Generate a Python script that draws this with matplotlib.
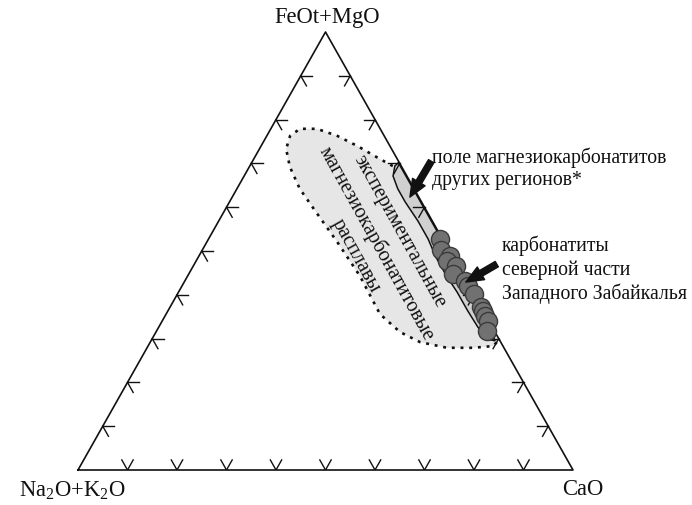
import numpy as np
import matplotlib.pyplot as plt

plt.rcParams['font.family'] = ['Liberation Serif', 'DejaVu Serif']
plt.rcParams['mathtext.fontset'] = 'custom'
plt.rcParams['mathtext.rm'] = 'Liberation Serif'
plt.rcParams['mathtext.it'] = 'Liberation Serif:italic'

# carbonatites of the northern part of Western Transbaikalia (wt.%)
pts_feo_mgo = [52.7, 50.2, 48.9, 47.7, 46.6, 44.7, 43.2, 42.0, 40.2, 37.2, 36.3, 35.2, 34.0, 31.7]
pts_cao = [46.8, 48.2, 50.7, 50.7, 53.1, 53.4, 56.6, 57.8, 59.8, 62.8, 63.7, 64.6, 65.8, 66.8]

# experimental magnesiocarbonatite melts field (dotted outline)
exp_feo_mgo = [69.4, 71.0, 74.0, 76.3, 77.9, 77.9, 76.3, 73.3, 69.2, 64.2, 59.1, 52.1,
               44.3, 35.6, 31.5, 29.2, 27.9, 27.9, 28.3, 29.9]
exp_cao = [28.9, 25.5, 19.4, 14.2, 9.3, 5.9, 4.7, 5.4, 8.2, 12.7, 18.4, 26.3,
           34.8, 43.2, 49.3, 54.5, 60.6, 65.9, 69.7, 70.3]
# hidden side of that field, under the other-regions band
exp_edge_feo_mgo = [40.0, 50.0, 60.0]
exp_edge_cao = [59.0, 49.0, 39.0]

# magnesiocarbonatites of other regions field
band_feo_mgo = [70.3, 69.4, 67.1, 64.2, 61.2, 56.8, 52.7, 48.6, 44.5, 40.6, 36.3, 32.6, 29.9, 29.5,
                35.0, 45.0, 55.0, 65.0, 70.0]
band_cao = [29.7, 29.3, 30.1, 32.5, 35.5, 40.3, 44.4, 48.0, 52.1, 56.3, 60.6, 64.5, 67.7, 69.5,
            64.8, 54.8, 44.8, 34.8, 29.8]

tick_vals = [10, 20, 30, 40, 50, 60, 70, 80, 90]


def tern(fe, ca):
    fe = np.asarray(fe, dtype=float) / 100
    ca = np.asarray(ca, dtype=float) / 100
    return ca + fe / 2, fe


W, H = 692, 506
fig = plt.figure(figsize=(W / 100, H / 100), dpi=100)
ax = fig.add_axes([78 / W, (H - 471) / H, 495 / W, 438 / H])
ax.set_xlim(0, 1)
ax.set_ylim(0, 1)
ax.axis('off')

# fields
ex, ey = tern(exp_feo_mgo + exp_edge_feo_mgo, exp_cao + exp_edge_cao)
ax.fill(ex, ey, color='#e6e6e6', lw=0, zorder=1, clip_on=False)
dx, dy = tern(exp_feo_mgo, exp_cao)
ax.plot(dx, dy, color='#111111', lw=1.9, ls=(0, (1.1, 2.2)), zorder=2, clip_on=False)

bx, by = tern(band_feo_mgo, band_cao)
ax.fill(bx, by, facecolor='#d0d0d0', edgecolor='#111111', lw=1.1, zorder=3, clip_on=False)

# triangle
tx, ty = tern([0, 0, 100, 0], [0, 100, 0, 0])
ax.plot(tx, ty, color='#111111', lw=1.2, zorder=4, clip_on=False)

L = 0.023
for t in tick_vals:
    segs = [
        (tern(t, 0), [(1, 0), (0.5, -1)]),
        (tern(0, t), [(0.5, 1), (-0.5, 1)]),
        (tern(t, 100 - t), [(-1, 0), (-0.5, -1)]),
    ]
    for (px, py), arms in segs:
        for vx, vy in arms:
            ax.plot([px, px + L * vx], [py, py + L * vy], color='#111111', lw=1.0, zorder=4)

# points
sx, sy = tern(pts_feo_mgo, pts_cao)
ax.scatter(sx, sy, s=170, facecolor='#717171', edgecolor='#3a3a3a', lw=1.0, zorder=5, clip_on=False)

# arrows
a1_tail, a1_tip = tern(70.5, 36.1), tern(62.3, 35.9)
a2_tail, a2_tip = tern(47.0, 61.1), tern(42.9, 56.9)
for tail, tip in [(a1_tail, a1_tip), (a2_tail, a2_tip)]:
    ax.annotate('', xy=tip, xytext=tail,
                arrowprops=dict(arrowstyle='simple,head_length=0.9,head_width=0.75,tail_width=0.32',
                                fc='#111111', ec='#111111', mutation_scale=14, shrinkA=0, shrinkB=0),
                zorder=6)

# field label
lx, ly = tern(100 * (471 - 244) / 438, 100 * ((377 - 78) / 495 - (471 - 244) / 876))
ax.text(lx, ly, 'экспериментальные\nмагнезиокарбонатитовые\nрасплавы', rotation=-61,
        rotation_mode='anchor', ha='center', va='center', fontsize=14.6, linespacing=1.35,
        color='#111111', zorder=6)

# vertex labels
fig.text(327 / W, 1 - 18 / H, 'FeOt+MgO', ha='center', va='center', fontsize=16.3, color='#111111')
fig.text(72 / W, 1 - 491 / H, r'Na$_{\mathrm{2}}$O+K$_{\mathrm{2}}$O', ha='center', va='center',
         fontsize=16.3, color='#111111')
fig.text(583 / W, 1 - 490 / H, 'CaO', ha='center', va='center', fontsize=16.3, color='#111111')

# annotations
fig.text(432 / W, 1 - 147 / H, 'поле магнезиокарбонатитов\nдругих регионов*', ha='left', va='top',
         fontsize=14.2, linespacing=1.25, color='#111111')
fig.text(502 / W, 1 - 236 / H, 'карбонатиты\nсеверной части\nЗападного Забайкалья', ha='left',
         va='top', fontsize=14.2, linespacing=1.25, color='#111111')

fig.savefig('out.png', dpi=100)
